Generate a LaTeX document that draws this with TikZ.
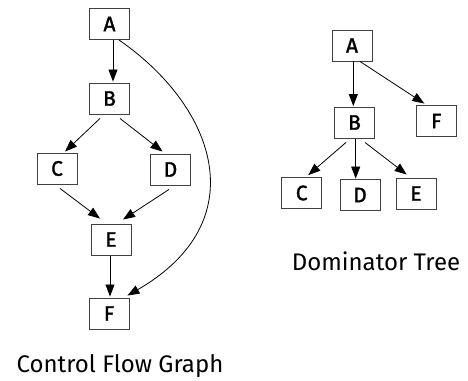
\documentclass[tikz,border=0pt]{standalone}
\usepackage{fontspec}
\setmainfont{Fira Sans}
\newfontfamily\boxfont[FakeBold=1.5]{Fira Sans}
\usetikzlibrary{arrows.meta,calc}
\begin{document}
\begin{tikzpicture}[x=1pt,y=-1pt,
  blk/.style={draw=black!75,line width=0.9pt,minimum width=40pt,minimum height=31pt,inner sep=0pt,font=\boxfont\fontsize{21}{24}\selectfont},
  edge/.style={line width=0.8pt,-{Triangle[length=12pt,width=9pt]}},
  caption/.style={font=\fontsize{24}{27}\selectfont,inner sep=0pt,anchor=base}]
\useasboundingbox (0,0) rectangle (468,380);
% Control flow graph
\node[blk] (cA) at (109.5,24) {A};
\node[blk] (cB) at (109.5,98.5) {B};
\node[blk] (cC) at (57,168.5) {C};
\node[blk] (cD) at (170.5,169.5) {D};
\node[blk] (cE) at (111,239.5) {E};
\node[blk] (cF) at (109,313.5) {F};
\draw[edge] ($(cA.south)+(3.5,0)$) -- ($(cB.north)+(3.5,-1)$);
\draw[edge] ($(cB.south)+(-9.5,4)$) -- ($(cC.north)+(8,-1)$);
\draw[edge] ($(cB.south)+(10.5,4)$) -- ($(cD.north)+(-8,-2)$);
\draw[edge] ($(cC.south)+(3,4)$) -- ($(cE.north)+(-11,-5)$);
\draw[edge] ($(cD.south)+(-1.5,4)$) -- ($(cE.north)+(12,-4)$);
\draw[edge] ($(cE.south)+(-1,1)$) -- ($(cF.north)+(1,-1)$);
\draw[edge] ($(cA.south)+(9.5,0)$) .. controls (217,108) and (255,222) .. ($(cF.north east)+(-2,-2)$);
\node[caption] (cap1) at (120,372) {Control Flow Graph};
% Dominator tree
\node[blk] (dA) at (352,45.5) {A};
\node[blk] (dB) at (354.5,122.5) {B};
\node[blk] (dF) at (436.3,121) {F};
\node[blk] (dC) at (301.7,193) {C};
\node[blk] (dD) at (360,195) {D};
\node[blk] (dE) at (416,193.5) {E};
\draw[edge] ($(dA.south)+(1.3,0)$) -- ($(dB.north)+(-1.2,-0.5)$);
\draw[edge] ($(dA.south)+(8,0)$) -- ($(dF.north)+(-12,-1.5)$);
\draw[edge] ($(dB.south)+(-8.5,4)$) -- ($(dC.north)+(6.6,-2)$);
\draw[edge] ($(dB.south)+(1.2,0.5)$) -- ($(dD.north)+(-4.3,-0.5)$);
\draw[edge] ($(dB.south)+(10.5,4)$) -- ($(dE.north)+(-9.3,-3)$);
\node[caption] (cap2) at (376,270) {Dominator Tree};
\end{tikzpicture}
\end{document}
